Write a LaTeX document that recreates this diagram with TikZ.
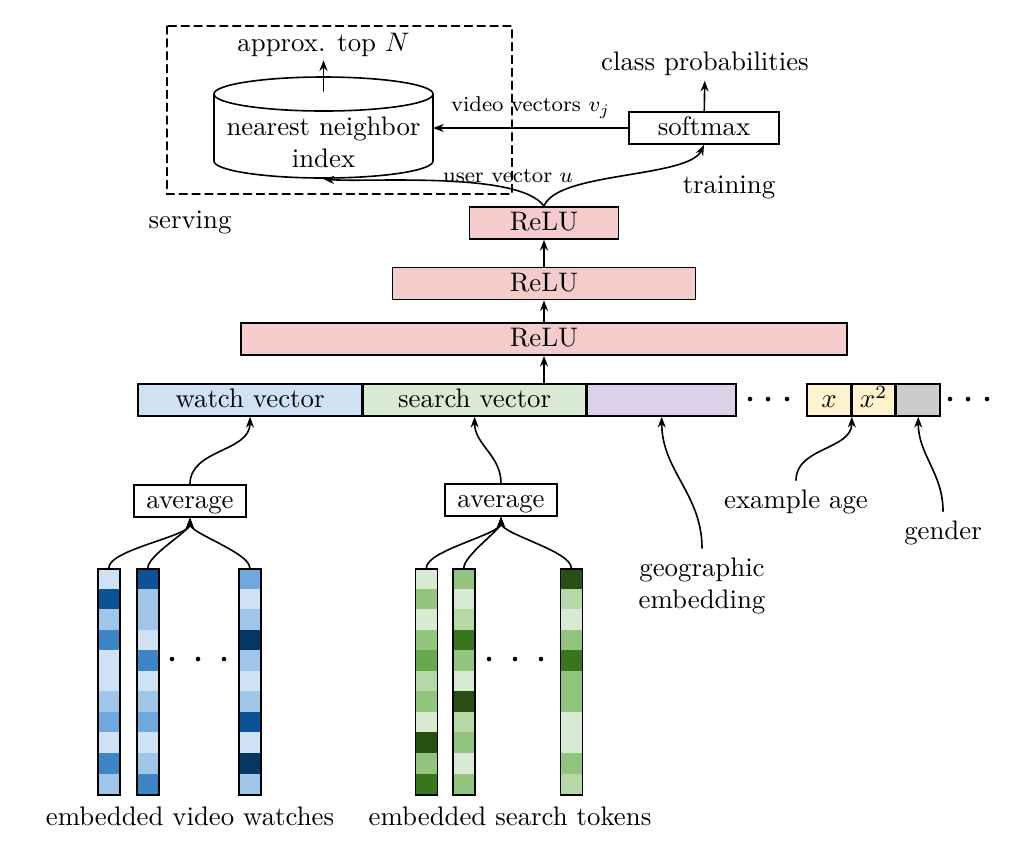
\documentclass[tikz,border=0pt]{standalone}
\usepackage{tikz}
\usetikzlibrary{arrows.meta,positioning}

\definecolor{relufill}{HTML}{F4CCCC}
\definecolor{watchfill}{HTML}{CFE2F3}
\definecolor{searchfill}{HTML}{D9EAD3}
\definecolor{geofill}{HTML}{D9D2E9}
\definecolor{agefill}{HTML}{FFF2CC}
\definecolor{genderfill}{HTML}{CCCCCC}
% blue shades for the watch embeddings
\definecolor{b0}{HTML}{CFE2F3}
\definecolor{b1}{HTML}{9FC5E8}
\definecolor{b2}{HTML}{6FA8DC}
\definecolor{b3}{HTML}{3D85C6}
\definecolor{b4}{HTML}{0B5394}
\definecolor{b5}{HTML}{073763}
% green shades for the search embeddings
\definecolor{g0}{HTML}{D9EAD3}
\definecolor{g1}{HTML}{B6D7A8}
\definecolor{g2}{HTML}{93C47D}
\definecolor{g3}{HTML}{6AA84F}
\definecolor{g4}{HTML}{38761D}
\definecolor{g5}{HTML}{274E13}

\newcommand{\pxu}{0.373pt}

\begin{document}
\begin{tikzpicture}[x=0.373pt, y=0.373pt, line width=0.6pt, line cap=round,
    >={Stealth[length=4pt,width=3pt]},
    box/.style={draw, inner sep=0pt, minimum height=32*\pxu, text height=1.6ex, text depth=0.25ex},
    relu/.style={box, fill=relufill},
    lbl/.style={font=\footnotesize},
    emb/.style={draw, inner sep=0pt, minimum width=22*\pxu, minimum height=226*\pxu}]
    \useasboundingbox (0,0) rectangle (1029,-850);
    %\draw[red] (0,0) grid[step=50] (1029,-850);

    % serving
    \draw[dash pattern=on 3pt off 1.8pt, line width=0.45pt] (167,-26) rectangle (512,-194);
    \node[align=center] (nn) at (323.5,-142) {nearest neighbor\\index};
    \draw (323.5,-94) ellipse [x radius=109.5, y radius=17];
    \draw (214,-94) -- (214,-161) arc[start angle=180, end angle=360, x radius=109.5, y radius=17] -- (433,-94);
    \coordinate (nntop) at (323.5,-91);
    \coordinate (nnright) at (433,-128);
    \coordinate (nnbot) at (323.5,-179);
    \node[inner sep=1pt] (approx) at (323.5,-45) {approx. top $N$};
    \node (serving) at (190,-222) {serving};
    \draw[->] (nntop) -- (approx);

    % training
    \node[box, minimum width=150*\pxu] (softmax) at (704,-128) {softmax};
    \node[inner sep=1.5pt] (classprob) at (705,-64) {class probabilities};
    \node (training) at (729,-187) {training};
    \draw[->] (softmax) -- (classprob);
    \draw[->] (softmax) -- node[lbl, above] {video vectors $v_j$} (nnright);

    % hidden layers
    \node[relu, minimum width=149*\pxu] (relu1) at (544,-223) {ReLU};
    \node[relu, minimum width=303*\pxu] (relu2) at (544,-283.5) {ReLU};
    \node[relu, minimum width=606*\pxu] (relu3) at (544,-339) {ReLU};
    \draw[->] (relu3) -- (relu2);
    \draw[->] (relu2) -- (relu1);
    \draw[->] (relu1.north) to[out=70, in=-115, looseness=0.55] (softmax.south);
    \draw[->] (relu1.north) to[out=125, in=-5, looseness=0.5] (nnbot);
    \node[lbl] (uservec) at (508,-176) {user vector $u$};

    % input features
    \node[box, fill=watchfill, minimum width=224*\pxu] (watch) at (250,-400) {watch vector};
    \node[box, fill=searchfill, minimum width=222*\pxu, right=0pt of watch] (search) {search vector};
    \node[box, fill=geofill, minimum width=149*\pxu, right=0pt of search] (geo) {};
    \node[box, fill=agefill, minimum width=44*\pxu] (agex) at (829,-400) {$x$};
    \node[box, fill=agefill, minimum width=42*\pxu, right=0pt of agex] (agexx) {$x^2$};
    \node[box, fill=genderfill, minimum width=44*\pxu, right=0pt of agexx] (gender) {};
    \draw[->] (relu3.south |- search.north) -- (relu3);
    \foreach \x in {750,768,787,950,968,987}
        \fill (\x,-399) circle (2.3);

    \node[align=center] (geotext) at (702,-586) {geographic\\embedding};
    \node (agetext) at (796,-502) {example age};
    \node (gendertext) at (943,-533) {gender};
    \draw[->] (geotext) to[out=90, in=-90] (geo.south);
    \draw[->] (agetext) to[out=90, in=-90] (agex.south east);
    \draw[->] (gendertext) to[out=90, in=-90] (gender.south);

    % averaging
    \node[box, minimum width=112*\pxu] (avgwatch) at (190,-501) {average};
    \node[box, minimum width=112*\pxu] (avgsearch) at (501,-500) {average};
    \draw[->] (avgwatch) to[out=90, in=-90] (watch.south);
    \draw[->] (avgsearch) to[out=90, in=-90] (search.south);

    % embedding columns
    \foreach \xl/\cl [count=\n] in {97/{b0,b4,b1,b3,b0,b0,b1,b2,b0,b3,b1},
                                    136/{b4,b1,b1,b0,b3,b0,b1,b2,b0,b1,b3},
                                    238/{b2,b0,b1,b5,b1,b0,b1,b4,b0,b5,b1},
                                    414.5/{g0,g2,g0,g2,g3,g1,g2,g0,g5,g2,g4},
                                    452/{g2,g0,g1,g4,g2,g0,g5,g1,g2,g0,g2},
                                    559.5/{g5,g1,g0,g2,g4,g2,g2,g0,g0,g2,g1}} {
        \foreach \c [count=\i from 0] in \cl
            \fill[\c] (\xl,-568-20.55*\i) rectangle ++(22,-20.55);
        \node[emb, anchor=north west] (emb\n) at (\xl,-568) {};
    }
    \foreach \n in {1,2,3}
        \draw[->] (emb\n) to[out=90, in=-90, looseness=0.5] (avgwatch);
    \foreach \n in {4,5,6}
        \draw[->] (emb\n) to[out=90, in=-90, looseness=0.5] (avgsearch);
    \foreach \x in {172,198,224,489,515,541}
        \fill (\x,-659) circle (2.3);

    \node (watchtext) at (190,-816) {embedded video watches};
    \node (searchtext) at (510,-816) {embedded search tokens};
\end{tikzpicture}
\end{document}
